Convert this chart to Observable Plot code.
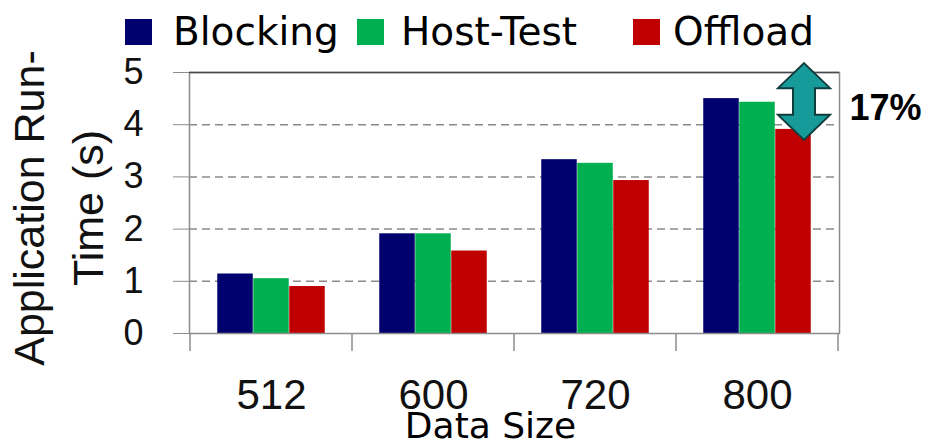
<!DOCTYPE html>
<html>
<head>
<meta charset="utf-8">
<script src="https://cdn.jsdelivr.net/npm/d3@7"></script>
<script src="https://cdn.jsdelivr.net/npm/@observablehq/plot@0.6"></script>
<style>
  html, body { margin: 0; padding: 0; background: #fff; }
  #wrap { width: 927px; height: 447px; overflow: hidden; }
  #legend { position: relative; width: 927px; height: 50px; font-family: "DejaVu Sans", sans-serif; font-size: 39px; color: #000; }
  #legend .sw { position: absolute; top: 19px; width: 27px; height: 26px; }
  #legend .lb { position: absolute; top: 12px; line-height: 39px; white-space: nowrap; }
  svg { display: block; }
</style>
</head>
<body>
<div id="wrap">
  <div id="legend"></div>
  <div id="chart"></div>
</div>
<script>
// ---- data ----
const sizes = ["512", "600", "720", "800"];
const seriesNames = ["Blocking", "Host-Test", "Offload"];
const blocking = [1.14, 1.91, 3.33, 4.50];
const hostTest = [1.05, 1.91, 3.26, 4.43];
const offload  = [0.90, 1.58, 2.93, 3.91];
const seriesColors = ["#00006e", "#00b050", "#c00000"];
const yTicks = [0, 1, 2, 3, 4, 5];
const gridTicks = [1, 2, 3, 4];
const xLabel = "Data Size";
const yLabel = "Application Run-\nTime (s)";
const annotCategory = ["800"];
const annotTop = [5.17];
const annotBottom = [3.70];
const annotLabel = ["17%"];
const annotLabelY = [4.31];

const seriesValues = [blocking, hostTest, offload];
const rows = [];
seriesNames.forEach((s, i) => sizes.forEach((c, j) => rows.push({size: c, series: s, value: seriesValues[i][j]})));

// ---- legend ----
const legend = document.getElementById("legend");
const legendSwatchX = [125, 357, 633];
const legendTextX = [173, 401, 673];
seriesNames.forEach((s, i) => {
  const sw = document.createElement("div");
  sw.className = "sw"; sw.style.left = legendSwatchX[i] + "px"; sw.style.background = seriesColors[i];
  legend.appendChild(sw);
  const lb = document.createElement("div");
  lb.className = "lb"; lb.style.left = legendTextX[i] + "px"; lb.textContent = s;
  legend.appendChild(lb);
});

// ---- chart ----
const sansFont = "'Liberation Sans', Arial, sans-serif";
const roundFont = "'DejaVu Sans', sans-serif";
const barW = 36;
const axisGray = "#8c8c8c";

function bandTicks(index, scales) {
  const x = scales.x, y = scales.y;
  const bw = x.bandwidth ? x.bandwidth() : 0;
  const dom = x.domain();
  const xs = dom.map(d => x(d)).concat([x(dom[dom.length - 1]) + bw]);
  const g = d3.create("svg:g");
  xs.forEach(px => g.append("line")
    .attr("x1", px).attr("x2", px)
    .attr("y1", y(0)).attr("y2", y(0) + 18)
    .attr("stroke", axisGray).attr("stroke-width", 1.5));
  return g.node();
}

function doubleArrow(index, scales) {
  const x = scales.x, y = scales.y;
  const bw = x.bandwidth ? x.bandwidth() : 0;
  const cx = x(annotCategory[0]) + bw / 2 + 47;
  const y1 = y(annotTop[0]), y2 = y(annotBottom[0]);
  const hw = 26, sw = 11, hl = 25;
  const pts = [
    [cx, y1], [cx + hw, y1 + hl], [cx + sw, y1 + hl], [cx + sw, y2 - hl], [cx + hw, y2 - hl],
    [cx, y2], [cx - hw, y2 - hl], [cx - sw, y2 - hl], [cx - sw, y1 + hl], [cx - hw, y1 + hl]
  ];
  return d3.create("svg:polygon")
    .attr("points", pts.map(p => p.join(",")).join(" "))
    .attr("fill", "#169a9a").attr("stroke", "#123c3c").attr("stroke-width", 2)
    .attr("stroke-linejoin", "miter")
    .node();
}

const barMarks = seriesNames.map((s, i) => Plot.barY(rows.filter(r => r.series === s), {
  x: "size", y: "value", fill: seriesColors[i],
  insetLeft: (162.5 - barW) / 2, insetRight: (162.5 - barW) / 2, dx: (i - 1) * barW
}));

const chart = Plot.plot({
  width: 927,
  height: 397,
  marginTop: 22,
  marginBottom: 114,
  marginLeft: 189,
  marginRight: 88,
  style: {background: "#fff", overflow: "visible"},
  x: {domain: sizes, padding: 0},
  y: {domain: [0, 5]},
  marks: [
    Plot.ruleY(gridTicks, {stroke: "#8a8a8a", strokeWidth: 1.5, strokeDasharray: "8,5"}),
    ...barMarks,
    Plot.frame({stroke: axisGray, strokeWidth: 1.5}),
    Plot.ruleY([5], {stroke: "#4a4a4a", strokeWidth: 1.5}),
    Plot.axisY({ticks: yTicks, tickFormat: "d", tickSize: 16, tickPadding: 30, stroke: axisGray, fontSize: 36, fontFamily: sansFont, fill: "#111", label: null}),
    Plot.axisX({tickSize: 0, tickPadding: 46, fontSize: 42, fontFamily: sansFont, fill: "#111", label: null}),
    bandTicks,
    Plot.text([xLabel], {frameAnchor: "bottom", dy: 79, dx: -24, lineAnchor: "top", textAnchor: "middle", fontSize: 36, fontFamily: roundFont, fill: "#000"}),
    Plot.text([yLabel], {frameAnchor: "left", dx: -135, dy: 5, rotate: -90, textAnchor: "middle", lineAnchor: "middle", lineHeight: 1.37, fontSize: 43, fontFamily: sansFont, fill: "#111"}),
    doubleArrow,
    Plot.text(annotLabel, {x: () => annotCategory[0], y: () => annotLabelY[0], dx: 92, textAnchor: "start", fontSize: 36, fontWeight: "bold", fontFamily: sansFont, fill: "#000"})
  ]
});
document.getElementById("chart").appendChild(chart);
</script>
</body>
</html>
